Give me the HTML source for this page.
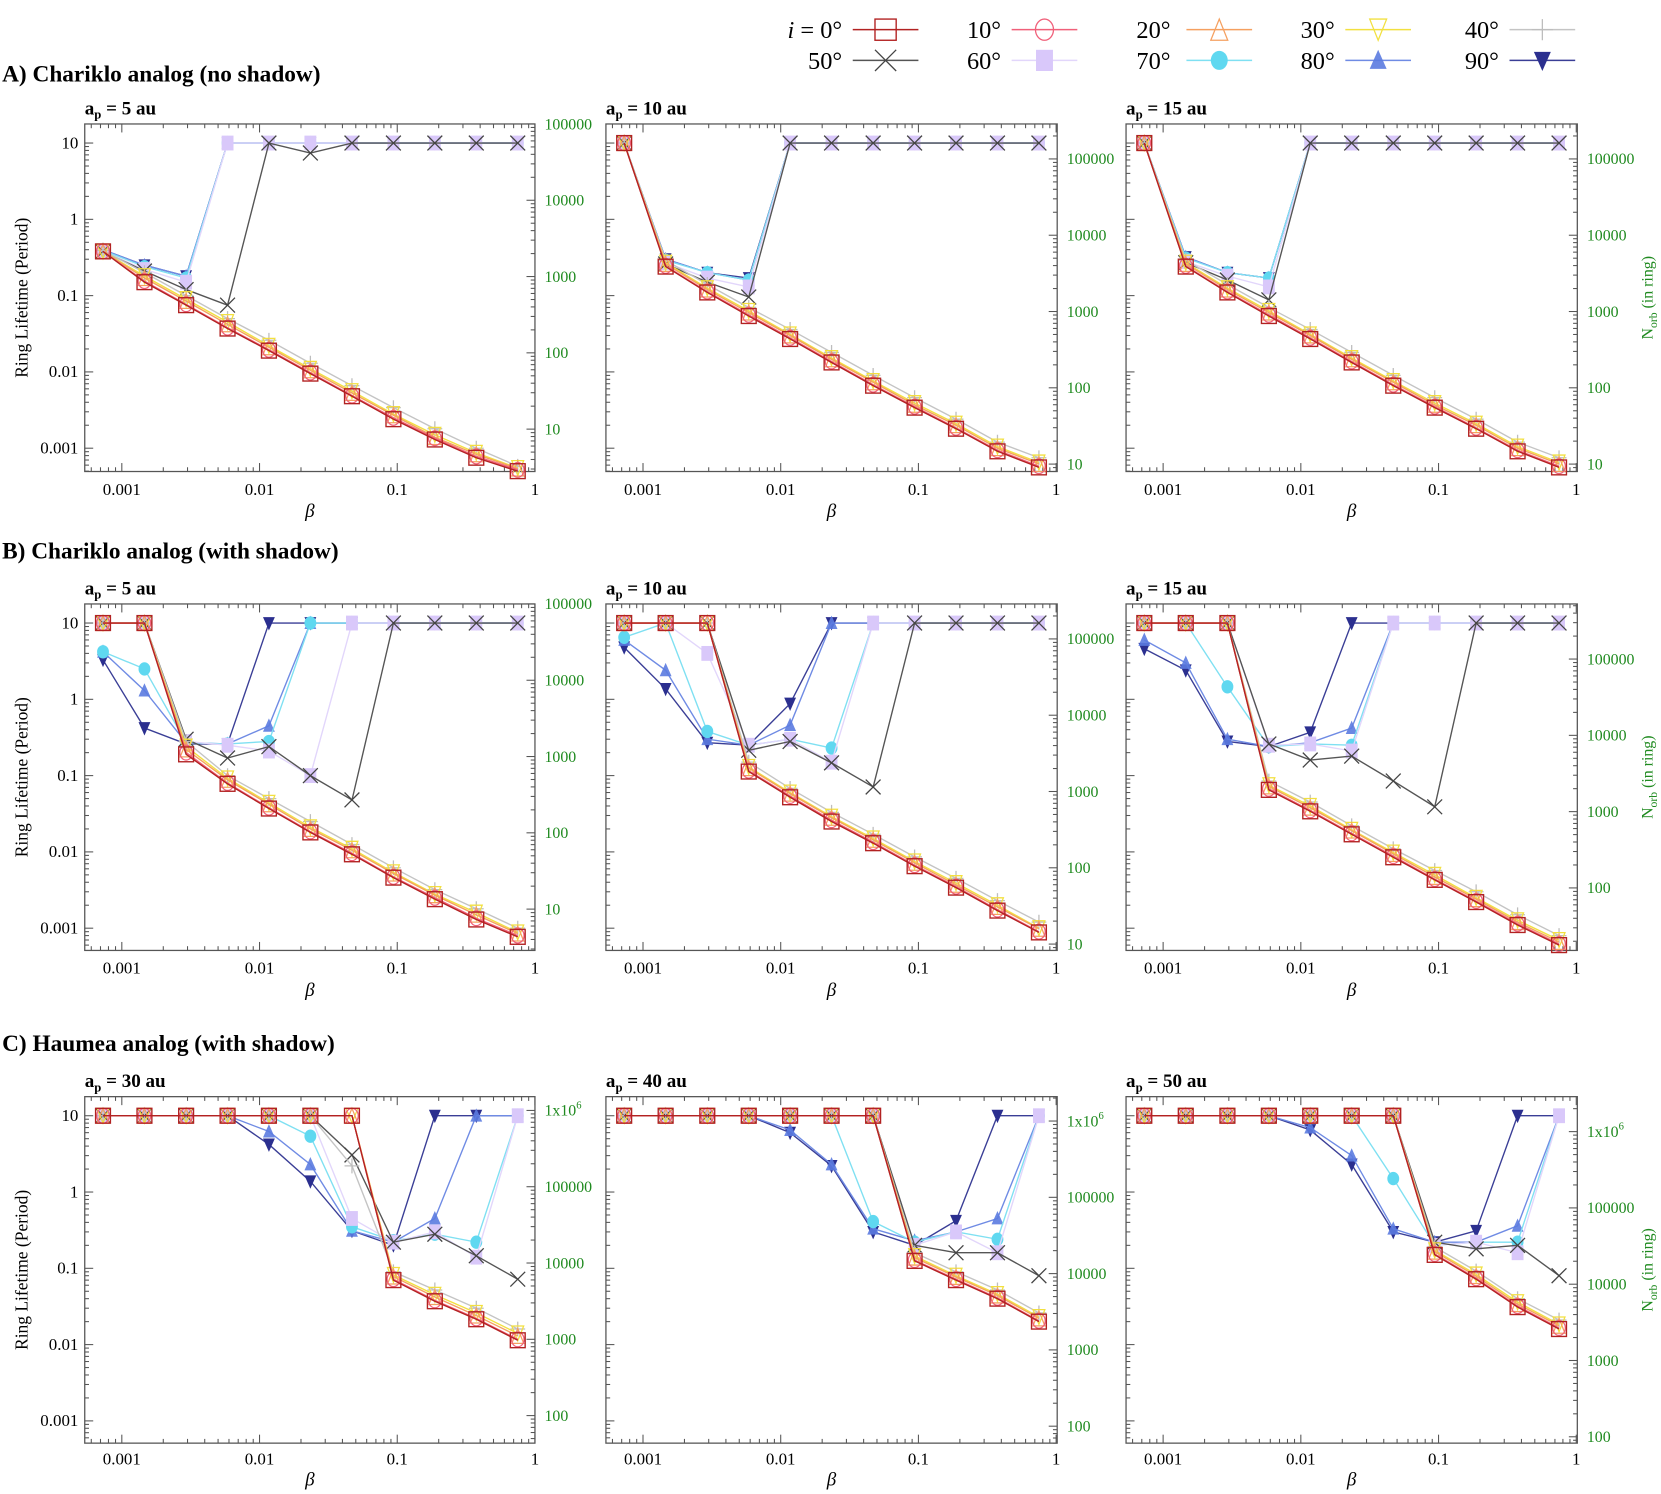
<!DOCTYPE html>
<html><head><meta charset="utf-8"><style>
html,body{margin:0;padding:0;background:#fff;}
svg{display:block;font-family:"Liberation Serif",serif;}
</style></head><body>
<svg id="fig" xmlns="http://www.w3.org/2000/svg" width="1661" height="1494" viewBox="0 0 1568 1410" preserveAspectRatio="none"></svg>
<script>
const betas=[0.00073,0.00146,0.00293,0.00586,0.0117,0.0234,0.0469,0.0938,0.1875,0.375,0.75];
const incl=["0°","10°","20°","30°","40°","50°","60°","70°","80°","90°"];
const leftTicks=[10,1,0.1,0.01,0.001];
const leftTickLabels=["10","1","0.1","0.01","0.001"];
const xTicks=[0.001,0.01,0.1,1];
const xTickLabels=["0.001","0.01","0.1","1"];
const titles=["a<tspan font-size='12' dy='4'>p</tspan><tspan dy='-4'> = 5 au</tspan>","a<tspan font-size='12' dy='4'>p</tspan><tspan dy='-4'> = 10 au</tspan>","a<tspan font-size='12' dy='4'>p</tspan><tspan dy='-4'> = 15 au</tspan>","a<tspan font-size='12' dy='4'>p</tspan><tspan dy='-4'> = 30 au</tspan>","a<tspan font-size='12' dy='4'>p</tspan><tspan dy='-4'> = 40 au</tspan>","a<tspan font-size='12' dy='4'>p</tspan><tspan dy='-4'> = 50 au</tspan>"];
const T=10;
const dataA1=[
[0.38,0.15,0.075,0.037,0.019,0.0095,0.0048,0.0024,0.0013,0.00075,0.0005],
[0.38,0.155,0.077,0.038,0.0195,0.0098,0.0049,0.0025,0.00135,0.00078,0.00052],
[0.38,0.17,0.085,0.042,0.021,0.0105,0.0053,0.0027,0.0014,0.00083,0.00054],
[0.38,0.18,0.09,0.045,0.022,0.011,0.0056,0.0028,0.0015,0.00087,0.00055],
[0.39,0.2,0.1,0.05,0.026,0.013,0.0066,0.0034,0.0018,0.001,0.00058],
[0.38,0.21,0.12,0.075,T,7.4,T,T,T,T,T],
[0.38,0.22,0.15,T,T,T,T,T,T,T,T],
[0.39,0.24,0.17,T,T,T,T,T,T,T,T],
[0.4,0.25,0.18,T,T,T,T,T,T,T,T],
[0.4,0.25,0.18,T,T,T,T,T,T,T,T]];
const dataA2=[
[T,0.24,0.11,0.054,0.027,0.0133,0.0066,0.0034,0.0018,0.00091,0.00056],
[T,0.245,0.113,0.056,0.028,0.0137,0.0068,0.0035,0.00185,0.00094,0.00058],
[T,0.26,0.12,0.06,0.03,0.0146,0.0073,0.0037,0.002,0.001,0.00062],
[T,0.27,0.125,0.063,0.031,0.0152,0.0076,0.0039,0.0021,0.00105,0.00065],
[T,0.29,0.14,0.07,0.036,0.018,0.009,0.0046,0.0024,0.0012,0.00075],
[T,0.26,0.15,0.096,T,T,T,T,T,T,T],
[T,0.27,0.17,0.13,T,T,T,T,T,T,T],
[T,0.29,0.2,0.16,T,T,T,T,T,T,T],
[T,0.3,0.2,0.16,T,T,T,T,T,T,T],
[T,0.3,0.2,0.17,T,T,T,T,T,T,T]];
const dataA3=[
[T,0.24,0.11,0.054,0.027,0.0133,0.0066,0.0034,0.0018,0.00091,0.00056],
[T,0.245,0.113,0.056,0.028,0.0137,0.0068,0.0035,0.00185,0.00094,0.00058],
[T,0.26,0.12,0.06,0.03,0.0146,0.0073,0.0037,0.002,0.001,0.00062],
[T,0.27,0.125,0.063,0.031,0.0152,0.0076,0.0039,0.0021,0.00105,0.00065],
[T,0.29,0.14,0.07,0.036,0.018,0.009,0.0046,0.0024,0.0012,0.00075],
[T,0.27,0.16,0.088,T,T,T,T,T,T,T],
[T,0.28,0.18,0.13,T,T,T,T,T,T,T],
[T,0.31,0.2,0.17,T,T,T,T,T,T,T],
[T,0.32,0.2,0.17,T,T,T,T,T,T,T],
[T,0.32,0.2,0.17,T,T,T,T,T,T,T]];
const dataB1=[
[T,T,0.19,0.078,0.037,0.018,0.0093,0.0046,0.0024,0.0013,0.00077],
[T,T,0.2,0.08,0.038,0.0185,0.0096,0.0047,0.0025,0.00135,0.0008],
[T,T,0.22,0.088,0.042,0.02,0.0105,0.0052,0.0027,0.0015,0.00085],
[T,T,0.24,0.092,0.044,0.021,0.011,0.0054,0.0028,0.0016,0.00088],
[T,T,0.28,0.1,0.05,0.025,0.0125,0.0062,0.0032,0.0018,0.001],
[T,T,0.3,0.17,0.24,0.1,0.048,T,T,T,T],
[T,T,0.28,0.25,0.21,0.1,T,T,T,T,T],
[4.2,2.5,0.27,0.26,0.28,T,T,T,T,T,T],
[4.2,1.3,0.27,0.26,0.45,T,T,T,T,T,T],
[3.3,0.42,0.26,0.26,T,T,T,T,T,T,T]];
const dataB2=[
[T,T,T,0.113,0.052,0.025,0.013,0.0065,0.0034,0.0017,0.00088],
[T,T,T,0.116,0.054,0.026,0.0134,0.0067,0.0035,0.00175,0.0009],
[T,T,T,0.125,0.058,0.028,0.0144,0.0072,0.0037,0.0019,0.00098],
[T,T,T,0.13,0.06,0.029,0.015,0.0075,0.0039,0.002,0.001],
[T,T,T,0.15,0.068,0.033,0.017,0.0086,0.0045,0.0023,0.0012],
[T,T,T,0.215,0.28,0.147,0.071,T,T,T,T],
[T,T,4,0.25,0.3,0.15,T,T,T,T,T],
[6.5,T,0.38,0.25,0.3,0.23,T,T,T,T,T],
[6,2.4,0.3,0.25,0.46,T,T,T,T,T,T],
[4.8,1.37,0.27,0.25,0.88,T,T,T,T,T,T]];
const dataB3=[
[T,T,T,0.065,0.034,0.017,0.0085,0.0043,0.0022,0.0011,0.0006],
[T,T,T,0.067,0.035,0.0175,0.0088,0.0044,0.00227,0.00114,0.00062],
[T,T,T,0.072,0.038,0.019,0.0094,0.0047,0.0024,0.0012,0.00066],
[T,T,T,0.075,0.04,0.0195,0.0098,0.005,0.0025,0.00127,0.0007],
[T,T,T,0.085,0.045,0.022,0.011,0.0057,0.003,0.0015,0.0008],
[T,T,T,0.26,0.16,0.18,0.085,0.039,T,T,T],
[T,T,T,0.25,0.26,0.21,T,T,T,T,T],
[T,T,1.46,0.24,0.26,0.25,T,T,T,T,T],
[6,3,0.3,0.24,0.27,0.42,T,T,T,T,T],
[4.6,2.4,0.28,0.24,0.37,T,T,T,T,T,T]];
const dataC1=[
[T,T,T,T,T,T,T,0.07,0.037,0.0215,0.0114],
[T,T,T,T,T,T,T,0.072,0.038,0.022,0.0117],
[T,T,T,T,T,T,T,0.078,0.042,0.024,0.013],
[T,T,T,T,T,T,T,0.082,0.045,0.026,0.014],
[T,T,T,T,T,T,2.2,0.09,0.052,0.03,0.016],
[T,T,T,T,T,T,3.06,0.22,0.28,0.146,0.072],
[T,T,T,T,T,T,0.45,0.22,0.3,0.14,T],
[T,T,T,T,T,5.4,0.35,0.23,0.28,0.22,T],
[T,T,T,T,6.2,2.3,0.31,0.22,0.45,T,T],
[T,T,T,T,4.2,1.38,0.31,0.2,T,T,T]];
const dataC2=[
[T,T,T,T,T,T,T,0.125,0.07,0.04,0.02],
[T,T,T,T,T,T,T,0.128,0.072,0.041,0.0205],
[T,T,T,T,T,T,T,0.138,0.077,0.044,0.022],
[T,T,T,T,T,T,T,0.145,0.08,0.046,0.023],
[T,T,T,T,T,T,T,0.16,0.09,0.052,0.026],
[T,T,T,T,T,T,T,0.2,0.16,0.16,0.08],
[T,T,T,T,T,T,T,0.2,0.3,0.16,T],
[T,T,T,T,T,T,0.41,0.22,0.3,0.24,T],
[T,T,T,T,6.5,2.3,0.33,0.23,0.3,0.45,T],
[T,T,T,T,6,2.2,0.3,0.2,0.42,T,T]];
const dataC3=[
[T,T,T,T,T,T,T,0.15,0.072,0.031,0.016],
[T,T,T,T,T,T,T,0.154,0.074,0.032,0.0165],
[T,T,T,T,T,T,T,0.165,0.079,0.034,0.0176],
[T,T,T,T,T,T,T,0.172,0.083,0.036,0.0184],
[T,T,T,T,T,T,T,0.19,0.092,0.04,0.021],
[T,T,T,T,T,T,T,0.22,0.18,0.2,0.08],
[T,T,T,T,T,T,T,0.2,0.22,0.16,T],
[T,T,T,T,T,T,1.5,0.2,0.22,0.22,T],
[T,T,T,T,7,3,0.33,0.22,0.22,0.36,T],
[T,T,T,T,6.5,2.3,0.3,0.22,0.31,T,T]];
const rightLabelsA=["100000","10000","1000","100","10"];
const rightLabelsB3=["100000","10000","1000","100"];
const rightLabelsC=["1x10<tspan font-size='10' dy='-7'>6</tspan>","100000","10000","1000","100"];

const NS="http://www.w3.org/2000/svg";
const svg=document.getElementById('fig');
function el(tag,attrs,parent){const e=document.createElementNS(NS,tag);for(const k in attrs)e.setAttribute(k,attrs[k]);(parent||svg).appendChild(e);return e;}
const colors=["#b22222","#f0607a","#f5a060","#f2e040","#bdbdbd","#444444","#d9c8fa","#5fd8f0","#5b7be0","#2b2f8f"];
const lineColors=["#b22222","#f0607a","#f5a060","#f2e040","#c4c4c4","#555555","#e2d6fb","#7fe0f2","#6f8be4","#3a3e96"];

function marker(g,k,cx,cy,r){
  const c=colors[k];let m;
  if(k===0)m=el('rect',{x:cx-r,y:cy-r,width:2*r,height:2*r,fill:'none',stroke:c,'stroke-width':1.3},g);
  else if(k===1)m=el('ellipse',{cx:cx,cy:cy,rx:r*0.85,ry:r,fill:'none',stroke:c,'stroke-width':1.2},g);
  else if(k===2)m=el('polygon',{points:`${cx},${cy-r} ${cx-r*0.8},${cy+r} ${cx+r*0.8},${cy+r}`,fill:'none',stroke:c,'stroke-width':1.2},g);
  else if(k===3)m=el('polygon',{points:`${cx},${cy+r} ${cx-r*0.8},${cy-r} ${cx+r*0.8},${cy-r}`,fill:'none',stroke:c,'stroke-width':1.2},g);
  else if(k===4)m=el('path',{d:`M${cx-r} ${cy}H${cx+r}M${cx} ${cy-r}V${cy+r}`,stroke:c,'stroke-width':1.2,fill:'none'},g);
  else if(k===5)m=el('path',{d:`M${cx-r} ${cy-r}L${cx+r} ${cy+r}M${cx-r} ${cy+r}L${cx+r} ${cy-r}`,stroke:c,'stroke-width':1.2,fill:'none'},g);
  else if(k===6)m=el('rect',{x:cx-r*0.8,y:cy-r,width:1.6*r,height:2*r,fill:c},g);
  else if(k===7)m=el('ellipse',{cx:cx,cy:cy,rx:r*0.8,ry:r*0.9,fill:c},g);
  else if(k===8)m=el('polygon',{points:`${cx},${cy-r} ${cx-r*0.8},${cy+r*0.8} ${cx+r*0.8},${cy+r*0.8}`,fill:c,opacity:0.9},g);
  else m=el('polygon',{points:`${cx},${cy+r} ${cx-r*0.8},${cy-r*0.8} ${cx+r*0.8},${cy-r*0.8}`,fill:c},g);
  return m;
}

const heads=[["A)  Chariklo analog (no shadow)",77],["B)  Chariklo analog (with shadow)",527],["C)  Haumea analog (with shadow)",992]];
heads.forEach((h,i)=>{const t=el('text',{x:2,y:h[1],'font-size':22,'font-weight':'bold','xml:space':'preserve'});t.textContent=h[0];

});

const legX=[[795,805],[945,955],[1105,1120],[1260,1270],[1415,1425]];
incl.forEach((lab,k)=>{
  const col=k%5,row=Math.floor(k/5);const y=row?57:28;
  const g=el('g',{});
  
  
  const t=el('text',{x:legX[col][0],y:y+8,'font-size':23,'text-anchor':'end'},g);
  if(k===0)t.innerHTML="<tspan font-style='italic'>i</tspan> = 0°";else t.textContent=lab;
  el('line',{x1:legX[col][1],x2:legX[col][1]+62,y1:y,y2:y,stroke:lineColors[k],'stroke-width':1.4},g);
  marker(g,k,legX[col][1]+31,y,10);
});

const cols=[[80,505],[572,998],[1063,1489]];
const rows=[[117,445],[570,897],[1035,1362]];
const panelData=[[dataA1,dataA2,dataA3],[dataB1,dataB2,dataB3],[dataC1,dataC2,dataC3]];
const rightTop=[[117,150,150],[570,603,622],[1048,1058,1068]];
const rightLab=[[rightLabelsA,rightLabelsA,rightLabelsA],[rightLabelsA,rightLabelsA,rightLabelsB3],[rightLabelsC,rightLabelsC,rightLabelsC]];
const titleIdx=[[0,1,2],[0,1,2],[3,4,5]];
const log10=Math.log10;

for(let r=0;r<3;r++)for(let c=0;c<3;c++){
  const [L,R]=cols[c],[Tp,B]=rows[r];
  const X=b=>L+35+(log10(b)+3)*130;
  const Y=v=>Tp+18+(1-log10(v))*72;
  const g=el('g',{});
  
  
  const tt=el('text',{x:L,y:Tp-9,'font-size':18,'font-weight':'bold'},g);tt.innerHTML=titles[titleIdx[r][c]];
  
  
  const fr=el('rect',{x:L,y:Tp,width:R-L,height:B-Tp,fill:'none',stroke:'#555','stroke-width':1.2},g);
  
  
  for(let d=-4;d<=0;d++)for(let m=1;m<10;m++){
    const v=m*Math.pow(10,d);const x=X(v);if(x<L||x>R)continue;const len=m===1?8:4;
    el('line',{x1:x,x2:x,y1:B,y2:B-len,stroke:'#555','stroke-width':1},g);
    el('line',{x1:x,x2:x,y1:Tp,y2:Tp+len,stroke:'#555','stroke-width':1},g);
  }
  const lo=r===2?20:22;
  xTicks.forEach((v,i)=>{const t=el('text',{x:X(v),y:B+lo,'font-size':16,'text-anchor':'middle'},g);t.textContent=xTickLabels[i];
    
    });
  const xl=el('text',{x:(L+R)/2,y:B+(r===2?40:43),'font-size':18,'font-style':'italic','text-anchor':'middle'},g);xl.textContent='β';
  
  
  for(let d=-4;d<=1;d++)for(let m=1;m<10;m++){
    const v=m*Math.pow(10,d);const y=Y(v);if(y<Tp||y>B)continue;const len=m===1?8:4;
    el('line',{x1:L,x2:L+len,y1:y,y2:y,stroke:'#555','stroke-width':1},g);
  }
  if(c===0){
    leftTicks.forEach((v,i)=>{const t=el('text',{x:L-6,y:Y(v)+5,'font-size':16,'text-anchor':'end'},g);t.textContent=leftTickLabels[i];
      
      });
    const yl=el('text',{x:0,y:0,'font-size':16.5,'text-anchor':'middle',transform:`translate(26,${(Tp+B)/2}) rotate(-90)`},g);yl.textContent='Ring Lifetime (Period)';
    
    
  }
  const y0=rightTop[r][c];const labs=rightLab[r][c];
  for(let d=-1;d<7;d++)for(let m=1;m<10;m++){
    const y=y0+d*72-log10(m)*72; if(y<Tp||y>B)continue;const len=m===1?8:4;
    el('line',{x1:R,x2:R-len,y1:y,y2:y,stroke:'#555','stroke-width':1},g);
  }
  labs.forEach((s,i)=>{const t=el('text',{x:R+9,y:y0+i*72+5,'font-size':15,fill:'#1f8a1f'},g);t.innerHTML=s;
    
    });
  if(c===2){
    const nl=el('text',{x:0,y:0,'font-size':15,fill:'#1f8a1f','text-anchor':'middle',transform:`translate(1560,${(Tp+B)/2}) rotate(-90)`},g);
    nl.innerHTML="N<tspan font-size='11' dy='4'>orb</tspan><tspan dy='-4'> (in ring)</tspan>";
    
    
  }
  const data=panelData[r][c];
  for(let k=9;k>=0;k--){
    const sg=el('g',{},g);
    
    
    const pts=data[k].map((v,i)=>`${X(betas[i]).toFixed(1)},${Y(v).toFixed(1)}`).join(' ');
    el('polyline',{points:pts,fill:'none',stroke:lineColors[k],'stroke-width':1.3},sg);
    data[k].forEach((v,i)=>{const m=marker(sg,k,X(betas[i]),Y(v),7);
      
      });
  }
}
</script>
</body></html>
